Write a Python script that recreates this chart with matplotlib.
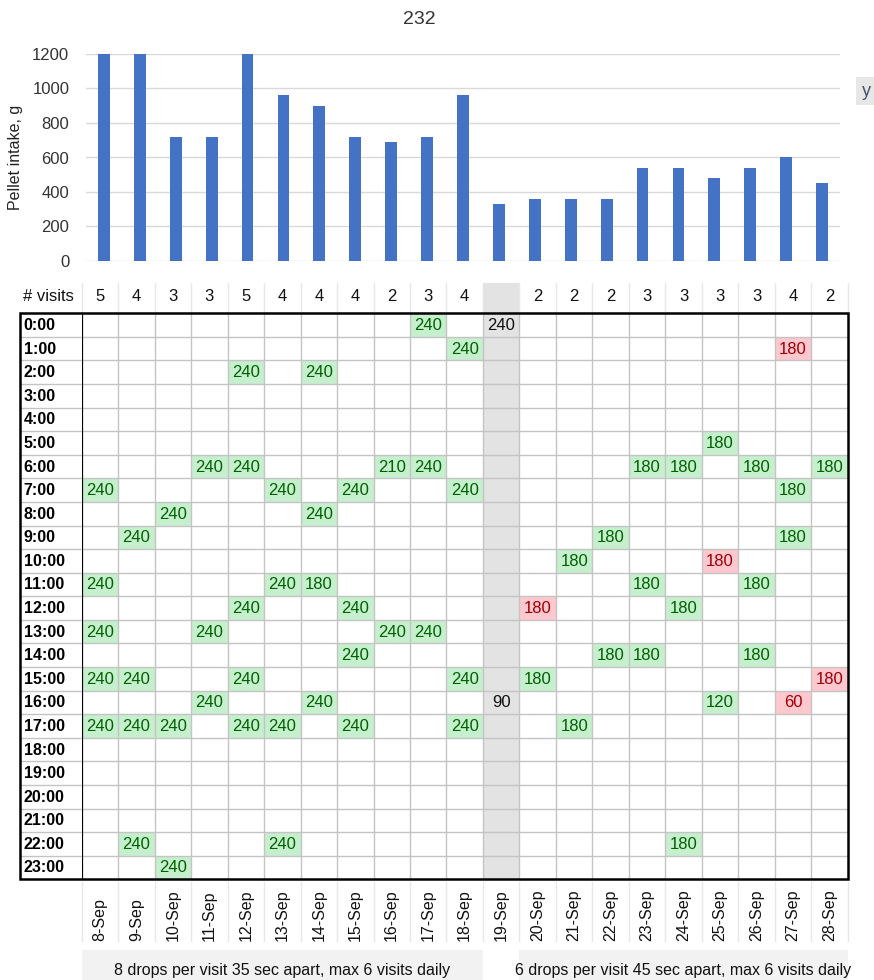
import matplotlib
matplotlib.use("Agg")
import matplotlib.pyplot as plt
from matplotlib.patches import Rectangle

plt.rcParams['font.family'] = ['Liberation Sans', 'DejaVu Sans']

# ---- data -------------------------------------------------------------
dates = ['8-Sep', '9-Sep', '10-Sep', '11-Sep', '12-Sep', '13-Sep', '14-Sep',
         '15-Sep', '16-Sep', '17-Sep', '18-Sep', '19-Sep', '20-Sep', '21-Sep',
         '22-Sep', '23-Sep', '24-Sep', '25-Sep', '26-Sep', '27-Sep', '28-Sep']
intake = [1200, 1200, 720, 720, 1200, 960, 900, 720, 690, 720, 960,
          330, 360, 360, 360, 540, 540, 480, 540, 600, 450]
visits = [5, 4, 3, 3, 5, 4, 4, 4, 2, 3, 4, None, 2, 2, 2, 3, 3, 3, 3, 4, 2]
hours = ['%d:00' % h for h in range(24)]

# (hour, grams) for every visit of each day
feeds = [
    [(7, 240), (11, 240), (13, 240), (15, 240), (17, 240)],
    [(9, 240), (15, 240), (17, 240), (22, 240)],
    [(8, 240), (17, 240), (23, 240)],
    [(6, 240), (13, 240), (16, 240)],
    [(2, 240), (6, 240), (12, 240), (15, 240), (17, 240)],
    [(7, 240), (11, 240), (17, 240), (22, 240)],
    [(2, 240), (8, 240), (11, 180), (16, 240)],
    [(7, 240), (12, 240), (14, 240), (17, 240)],
    [(6, 210), (13, 240)],
    [(0, 240), (6, 240), (13, 240)],
    [(1, 240), (7, 240), (15, 240), (17, 240)],
    [(0, 240), (16, 90)],
    [(12, 180), (15, 180)],
    [(10, 180), (17, 180)],
    [(9, 180), (14, 180)],
    [(6, 180), (11, 180), (14, 180)],
    [(6, 180), (12, 180), (22, 180)],
    [(5, 180), (10, 180), (16, 120)],
    [(6, 180), (11, 180), (14, 180)],
    [(1, 180), (7, 180), (9, 180), (16, 60)],
    [(6, 180), (15, 180)],
]
# visits flagged in red: (date, hour)
flagged = [('27-Sep', 1), ('25-Sep', 10), ('20-Sep', 12), ('28-Sep', 15), ('27-Sep', 16)]
off_day = '19-Sep'
notes = ['8 drops per visit 35 sec apart, max 6 visits daily',
         '6 drops per visit 45 sec apart, max 6 visits daily']
note_spans = [(0, 11), (12, 21)]

# ---- styles -------------------------------------------------------------
W, H = 874, 980
BAR_BLUE = '#4472c4'
GREEN_BG, GREEN_TX = '#c6efce', '#006100'
RED_BG, RED_TX = '#ffc7ce', '#9c0006'
OFF_BG = '#e3e3e3'
GRID = '#c4c4c4'
FAINT = '#e8e8e8'


def px_box(left, top, right, bottom):
    return [left / W, 1 - bottom / H, (right - left) / W, (bottom - top) / H]


fig = plt.figure(figsize=(W / 100, H / 100), dpi=100)
fig.patch.set_facecolor('white')

# ---- bar chart ----------------------------------------------------------
ax = fig.add_axes(px_box(86, 54, 840, 261))
x = range(len(dates))
ax.bar(x, intake, width=0.33, color=BAR_BLUE, zorder=3)
ax.set_xlim(-0.5, len(dates) - 0.5)
ax.set_ylim(0, 1200)
ax.set_yticks(range(0, 1201, 200))
ax.set_xticks([])
ax.yaxis.grid(True, color='#d9d9d9', lw=1.0, zorder=0)
for s in ax.spines.values():
    s.set_visible(False)
ax.tick_params(axis='y', length=0, pad=12, labelsize=12, labelcolor='#333333')
ax.set_ylabel('Pellet intake, g', fontsize=11.5, color='#222222')
ax.yaxis.set_label_coords(-0.084, 0.5)
fig.text(419 / W, 1 - 19 / H, '232', ha='center', va='center', fontsize=14, color='#333333')
fig.text(866 / W, 1 - 91 / H, 'y', ha='center', va='center', fontsize=13, color='#44546a',
         bbox=dict(boxstyle='square,pad=0.3', fc='#e7e7e7', ec='none'))

# ---- visit table --------------------------------------------------------
col_w = 766 / len(dates)
row_h = 566 / 24
tb = fig.add_axes(px_box(81.7, 313.3, 847.7, 879.3))
tb.set_xlim(0, len(dates))
tb.set_ylim(24, 0)
tb.axis('off')

label_w = 61.7 / col_w
visits_top = -30.3 / row_h
dates_bottom = 24 + 61.7 / row_h
ncol = len(dates)
off_col = dates.index(off_day)

# shaded column for the off day, continuing into the visits row
tb.add_patch(Rectangle((off_col, visits_top), 1, 24 - visits_top, fc=OFF_BG, ec='none',
                       zorder=1, clip_on=False))

# highlighted cells and values
for c, day in enumerate(feeds):
    for hr, g in day:
        if dates[c] == off_day:
            bg, tx = None, '#111111'
        elif (dates[c], hr) in flagged:
            bg, tx = RED_BG, RED_TX
        else:
            bg, tx = GREEN_BG, GREEN_TX
        if bg:
            tb.add_patch(Rectangle((c, hr), 1, 1, fc=bg, ec='none', zorder=1))
        tb.text(c + 0.5, hr + 0.52, str(g), ha='center', va='center', fontsize=12,
                color=tx, zorder=4)

# grid lines
for c in range(1, ncol):
    tb.plot([c, c], [0, 24], color=GRID, lw=1.0, zorder=2)
for r in range(1, 24):
    tb.plot([-label_w, ncol], [r, r], color=GRID, lw=1.0, zorder=2, clip_on=False)

# faint separators in the visits row and the date row
for c in range(0, ncol + 1):
    tb.plot([c, c], [visits_top, 0], color=FAINT, lw=1.0, zorder=0, clip_on=False)
    tb.plot([c, c], [24.1, dates_bottom], color=FAINT, lw=1.0, zorder=0, clip_on=False)

# outer frame
tb.add_patch(Rectangle((-label_w, 0), ncol + label_w, 24, fill=False, ec='black', lw=1.8,
                       zorder=5, clip_on=False))
tb.plot([0, 0], [0, 24], color='black', lw=1.6, zorder=5)

# row labels
for r, lab in enumerate(hours):
    tb.text(-label_w + 0.1, r + 0.52, lab, ha='left', va='center', fontsize=11.5,
            fontweight='bold', color='black', clip_on=False)

# visits row
visits_mid = visits_top / 2 - 0.05
tb.text(-label_w + 0.08, visits_mid, '# visits', ha='left', va='center', fontsize=12,
        color='#111111', clip_on=False)
for c, v in enumerate(visits):
    if v is not None:
        tb.text(c + 0.5, visits_mid, str(v), ha='center', va='center', fontsize=12,
                color='#111111', clip_on=False)

# date labels
for c, d in enumerate(dates):
    tb.text(c + 0.5, dates_bottom, d, rotation=90, ha='center', va='bottom', fontsize=11.5,
            color='#111111', clip_on=False)

# notes under the dates
note_top = 24 + 70.7 / row_h
for (a, b), txt in zip(note_spans, notes):
    tb.add_patch(Rectangle((a, note_top), b - a, 40 / row_h, fc='#f2f2f2', ec='none',
                           zorder=0, clip_on=False))
    tb.text((a + b) / 2, 24 + 90.7 / row_h, txt, ha='center', va='center', fontsize=11.5,
            color='#111111', clip_on=False)

fig.savefig('out.png', dpi=100)
